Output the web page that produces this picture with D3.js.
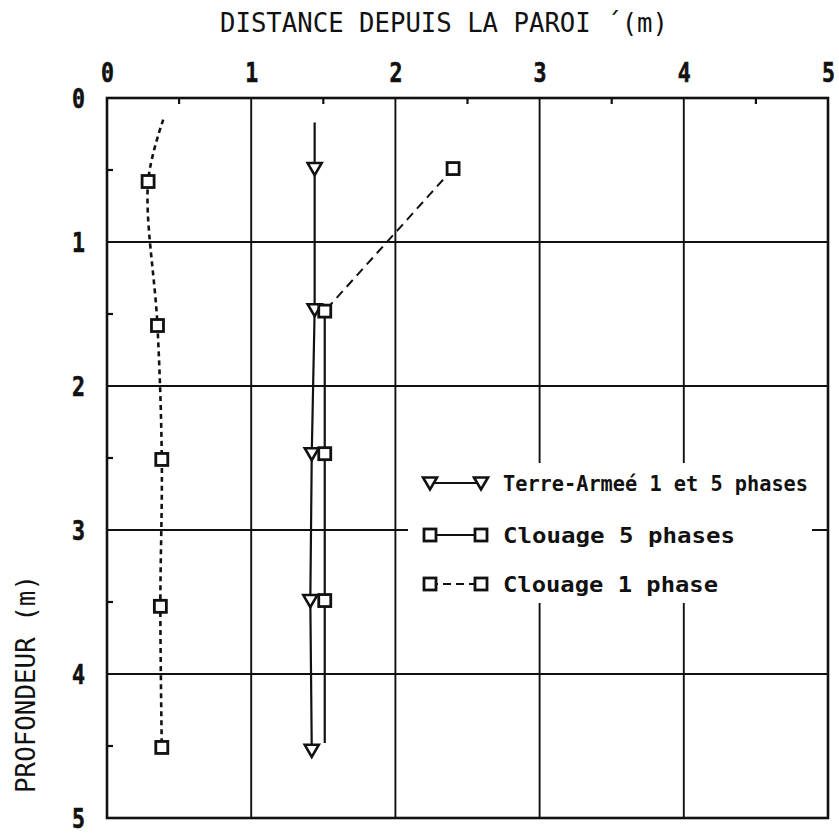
<!DOCTYPE html>
<html>
<head>
<meta charset="utf-8">
<script src="https://cdn.jsdelivr.net/npm/d3@7"></script>
<style>
  html, body { margin: 0; padding: 0; background: #fff; }
  svg { display: block; }
</style>
</head>
<body>
<svg id="chart" width="839" height="837"></svg>
<script>
// Distance from the wall (m) vs depth (m)
const distTicks = [0, 1, 2, 3, 4, 5];
const depthTicks = [0, 1, 2, 3, 4, 5];

// Terre-Armée, 1 and 5 phases (first point is the top of the line, no marker)
const terreDepth = [0.17, 0.49, 1.47, 2.47, 3.49, 4.53];
const terreDist  = [1.44, 1.44, 1.44, 1.42, 1.41, 1.42];
const terreMarked = [false, true, true, true, true, true];

// Clouage, 5 phases (last point is the end of the line, no marker)
const clou5Depth = [1.48, 2.47, 3.49, 4.48];
const clou5Dist  = [1.51, 1.51, 1.51, 1.51];
const clou5Marked = [true, true, true, false];

// Dashed link from the upper Clouage point down to the 5-phase column
const linkDepth = [0.49, 1.48];
const linkDist  = [2.40, 1.51];
const linkMarked = [true, false];

// Clouage, 1 phase (first point is the top of the curve, no marker)
const clou1Depth = [0.15, 0.58, 1.58, 2.51, 3.53, 4.51];
const clou1Dist  = [0.39, 0.285, 0.35, 0.38, 0.37, 0.38];
const clou1Marked = [false, true, true, true, true, true];

const legendLabels = ["Terre-Armeé 1 et 5 phases", "Clouage  5 phases", "Clouage  1 phase"];

const svg = d3.select("#chart");
const plotL = 107, plotR = 828, plotT = 98, plotB = 818;

const x = d3.scaleLinear().domain([0, 5]).range([plotL, plotR]);
const y = d3.scaleLinear().domain([0, 5]).range([plotT, plotB]);

const ink = "#111";
const mono = "'DejaVu Sans Mono', 'Liberation Mono', monospace";

// Grid lines at whole metres
const grid = svg.append("g").attr("stroke", ink).attr("stroke-width", 1.9);
distTicks.slice(1, -1).forEach(v => {
  grid.append("line").attr("x1", x(v)).attr("x2", x(v)).attr("y1", plotT).attr("y2", plotB);
});
depthTicks.slice(1, -1).forEach(v => {
  grid.append("line").attr("x1", plotL).attr("x2", plotR).attr("y1", y(v)).attr("y2", y(v));
});

// Top axis (distance) and left axis (depth), narrow heavy digits
const xAxis = d3.axisTop(x).tickValues(distTicks).tickSize(0).tickPadding(16).tickFormat(d3.format("d"));
const gx = svg.append("g").attr("transform", `translate(0,${plotT})`).call(xAxis);
gx.select(".domain").remove();
gx.selectAll("text").attr("font-family", mono).attr("font-size", 27).attr("font-weight", "bold").attr("fill", ink)
  .attr("stroke", ink).attr("stroke-width", 0.6)
  .attr("textLength", 13).attr("lengthAdjust", "spacingAndGlyphs");

const yAxis = d3.axisLeft(y).tickValues(depthTicks).tickSize(0).tickPadding(22).tickFormat(d3.format("d"));
const gy = svg.append("g").attr("transform", `translate(${plotL},0)`).call(yAxis);
gy.select(".domain").remove();
gy.selectAll("text").attr("font-family", mono).attr("font-size", 27).attr("font-weight", "bold").attr("fill", ink)
  .attr("stroke", ink).attr("stroke-width", 0.6)
  .attr("dy", "0.36em").attr("textLength", 13).attr("lengthAdjust", "spacingAndGlyphs");

// Half-metre inner ticks
const halfTicks = [0.5, 1.5, 2.5, 3.5, 4.5];
const minor = svg.append("g").attr("stroke", ink).attr("stroke-width", 2.2);
halfTicks.forEach(v => {
  minor.append("line").attr("x1", x(v)).attr("x2", x(v)).attr("y1", plotT).attr("y2", plotT + 6);
  minor.append("line").attr("x1", plotL).attr("x2", plotL + 6).attr("y1", y(v)).attr("y2", y(v));
});

// Frame
svg.append("rect").attr("x", plotL).attr("y", plotT).attr("width", plotR - plotL).attr("height", plotB - plotT)
  .attr("fill", "none").attr("stroke", ink).attr("stroke-width", 2.6);

// Axis titles
svg.append("text").attr("x", 444).attr("y", 32).attr("text-anchor", "middle")
  .attr("font-family", mono).attr("font-size", 26).attr("fill", ink)
  .attr("textLength", 448).attr("lengthAdjust", "spacingAndGlyphs")
  .text("DISTANCE DEPUIS LA PAROI ´(m)");

svg.append("text").attr("transform", "translate(35,684) rotate(-90)").attr("text-anchor", "middle")
  .attr("font-family", mono).attr("font-size", 26).attr("fill", ink)
  .attr("textLength", 218).attr("lengthAdjust", "spacingAndGlyphs")
  .text("PROFONDEUR  (m)");

// Series drawing helpers
const toPts = (dist, depth, marked) => dist.map((d, i) => ({ x: d, y: depth[i], m: marked[i] }));
const line = d3.line().x(d => x(d.x)).y(d => y(d.y));
const smooth = d3.line().x(d => x(d.x)).y(d => y(d.y)).curve(d3.curveCatmullRom.alpha(0.5));

function drawPath(pts, gen, dash, w) {
  svg.append("path").datum(pts).attr("d", gen).attr("fill", "none").attr("stroke", ink)
    .attr("stroke-width", w || 2.2).attr("stroke-dasharray", dash || null);
}
function square(g, cx, cy) {
  g.append("rect").attr("x", cx - 6).attr("y", cy - 6).attr("width", 12).attr("height", 12)
    .attr("fill", "#fff").attr("stroke", ink).attr("stroke-width", 2.8);
}
function triangle(g, cx, cy) {
  g.append("path").attr("d", `M${cx - 7},${cy - 5.5} L${cx + 7},${cy - 5.5} L${cx},${cy + 6.5} Z`)
    .attr("fill", "#fff").attr("stroke", ink).attr("stroke-width", 2.6).attr("stroke-linejoin", "miter");
}

const terre = toPts(terreDist, terreDepth, terreMarked);
const clou5 = toPts(clou5Dist, clou5Depth, clou5Marked);
const link = toPts(linkDist, linkDepth, linkMarked);
const clou1 = toPts(clou1Dist, clou1Depth, clou1Marked);

drawPath(clou1, smooth, "5,4", 2.6);
drawPath(link, line, "9,6", 2);
drawPath(terre, line);
drawPath(clou5, line);

const marks = svg.append("g");
terre.filter(d => d.m).forEach(d => triangle(marks, x(d.x), y(d.y)));
clou5.filter(d => d.m).forEach(d => square(marks, x(d.x), y(d.y)));
link.filter(d => d.m).forEach(d => square(marks, x(d.x), y(d.y)));
clou1.filter(d => d.m).forEach(d => square(marks, x(d.x), y(d.y)));

// Legend on a white panel over the grid
const lg = svg.append("g");
lg.append("rect").attr("x", 408).attr("y", 463).attr("width", 404).attr("height", 140).attr("fill", "#fff");
const rows = [483, 535, 584];
const lx1 = 430, lx2 = 481;
rows.forEach((ry, i) => {
  lg.append("line").attr("x1", lx1).attr("x2", lx2).attr("y1", ry).attr("y2", ry)
    .attr("stroke", ink).attr("stroke-width", 2.2).attr("stroke-dasharray", i === 2 ? "8,5" : null);
  if (i === 0) { triangle(lg, lx1, ry); triangle(lg, lx2, ry); }
  else { square(lg, lx1, ry); square(lg, lx2, ry); }
  lg.append("text").attr("x", 503).attr("y", ry).attr("dy", "0.36em")
    .attr("font-family", mono).attr("font-size", 21).attr("font-weight", "bold").attr("fill", ink)
    .attr("textLength", [305, 232, 215][i]).attr("lengthAdjust", "spacingAndGlyphs")
    .text(legendLabels[i]);
});
</script>
</body>
</html>
